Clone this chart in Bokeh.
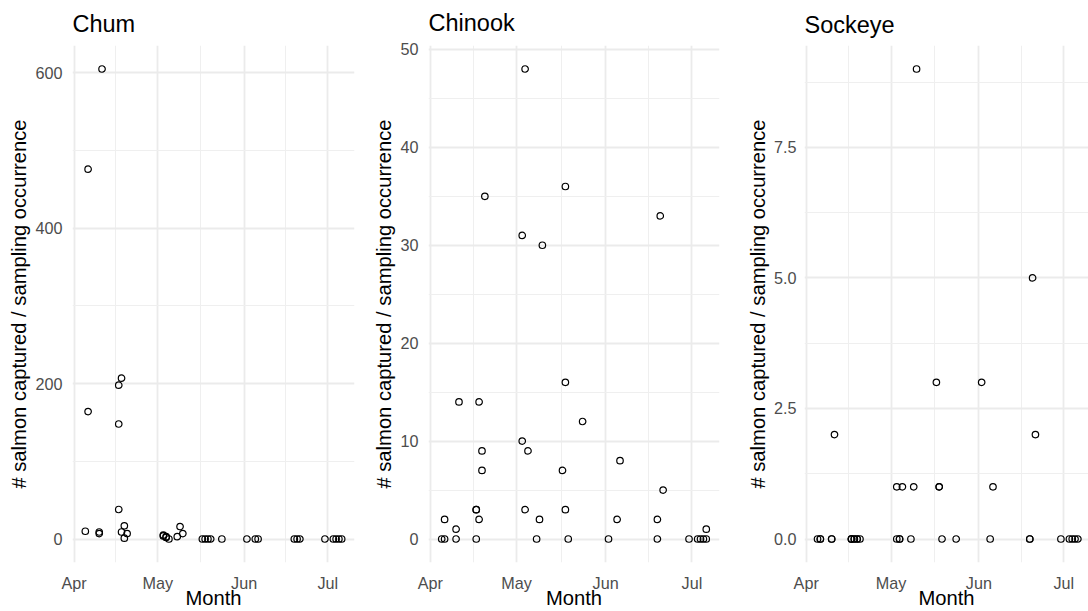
import pandas as pd
from bokeh.plotting import figure
from bokeh.layouts import row
from bokeh.models import (Range1d, FixedTicker, DatetimeTickFormatter,
                          NumeralTickFormatter, ColumnDataSource)
from bokeh.embed import file_html
from bokeh.resources import INLINE

YEAR = 2021

# ---- data (sampling date, salmon per sampling occurrence)
chum_dates = ["04-05", "04-06", "04-06", "04-10", "04-10", "04-11",
              "04-17", "04-17", "04-17", "04-18", "04-18", "04-19", "04-19", "04-20",
              "05-03", "05-03", "05-04", "05-04", "05-05",
              "05-08", "05-09", "05-10",
              "05-17", "05-18", "05-19", "05-20", "05-24",
              "06-02", "06-05", "06-06",
              "06-19", "06-20", "06-21", "06-30",
              "07-03", "07-04", "07-05", "07-06"]
chum_counts = [10, 476, 164, 9, 7, 605,
               198, 148, 38, 207, 9, 17, 1, 7,
               4, 5, 3, 2, 0,
               3, 16, 7,
               0, 0, 0, 0, 0,
               0, 0, 0,
               0, 0, 0, 0,
               0, 0, 0, 0]

chinook_dates = ["04-05", "04-06", "04-06", "04-10", "04-10", "04-11",
                 "04-17", "04-17", "04-17", "04-18", "04-18", "04-19", "04-19", "04-20",
                 "05-03", "05-03", "05-04", "05-04", "05-05",
                 "05-08", "05-09", "05-10",
                 "05-17", "05-18", "05-18", "05-18", "05-19", "05-24",
                 "06-02", "06-05", "06-06",
                 "06-19", "06-19", "06-20", "06-21", "06-30",
                 "07-03", "07-04", "07-05", "07-06", "07-06"]
chinook_counts = [0, 0, 2, 0, 1, 14,
                  0, 3, 3, 2, 14, 9, 7, 35,
                  31, 10, 48, 3, 9,
                  0, 2, 30,
                  7, 36, 16, 3, 0, 12,
                  0, 2, 8,
                  0, 2, 33, 5, 0,
                  0, 0, 0, 0, 1]

sockeye_dates = ["04-05", "04-06", "04-06", "04-10", "04-10", "04-11",
                 "04-17", "04-17", "04-17", "04-18", "04-18", "04-19", "04-19", "04-20",
                 "05-03", "05-03", "05-04", "05-04", "05-05",
                 "05-08", "05-09", "05-10",
                 "05-17", "05-18", "05-18", "05-19", "05-24",
                 "06-02", "06-05", "06-06",
                 "06-19", "06-19", "06-20", "06-21", "06-30",
                 "07-03", "07-04", "07-05", "07-06"]
sockeye_counts = [0, 0, 0, 0, 0, 2,
                  0, 0, 0, 0, 0, 0, 0, 0,
                  0, 1, 0, 0, 1,
                  0, 1, 9,
                  3, 1, 1, 0, 0,
                  3, 0, 1,
                  0, 0, 5, 2, 0,
                  0, 0, 0, 0]

month_ticks = ["04-01", "05-01", "06-01", "07-01"]
month_minor = ["04-16", "05-16 12:00", "06-16"]

chum_y_ticks = [0, 200, 400, 600]
chum_y_minor = [100, 300, 500]
chinook_y_ticks = [0, 10, 20, 30, 40, 50]
chinook_y_minor = [5, 15, 25, 35, 45]
sockeye_y_ticks = [0, 2.5, 5.0, 7.5]
sockeye_y_minor = [1.25, 3.75, 6.25, 8.75]

FONT = "Liberation Sans"
TITLE_SIZE = "23.5px"
AXIS_TITLE_SIZE = "20.2px"
TICK_SIZE = "16.2px"


def ms(md):
    return pd.Timestamp(f"{YEAR}-{md}").value / 1e6


def make_panel(title, dates, counts, yticks, yminor, yfmt, width, height,
               bl, br, bt, bb, title_standoff, xend=None, tick_standoff=10):
    x = pd.to_datetime([f"{YEAR}-{d}" for d in dates])
    src = ColumnDataSource(dict(x=x, y=counts))
    lo, hi = x.min().value / 1e6, x.max().value / 1e6
    pad = 0.05 * (hi - lo)
    ylo, yhi = min(counts), max(counts)
    ypad = 0.05 * (yhi - ylo)
    xr = Range1d(lo - pad, hi + pad if xend is None else ms(xend))
    yr = Range1d(ylo - ypad, yhi + ypad)
    p = figure(width=width, height=height, x_axis_type="datetime",
               x_range=xr, y_range=yr, output_backend="svg",
               toolbar_location=None, min_border_left=bl, min_border_right=br,
               min_border_top=bt, min_border_bottom=bb)
    p.outline_line_color = None
    p.background_fill_color = "white"
    p.border_fill_color = "white"

    p.title.text = title
    p.title.text_font = FONT
    p.title.text_font_size = TITLE_SIZE
    p.title.text_font_style = "normal"
    p.title.text_color = "black"
    p.title.align = "left"
    p.title.vertical_align = "top"
    p.title.standoff = title_standoff

    xt = FixedTicker(ticks=[ms(t) for t in month_ticks],
                     minor_ticks=[ms(t) for t in month_minor])
    yt = FixedTicker(ticks=yticks, minor_ticks=yminor)
    p.xaxis.ticker = xt
    p.yaxis.ticker = yt
    p.xgrid.ticker = xt
    p.ygrid.ticker = yt
    fmt = "%b"
    p.xaxis.formatter = DatetimeTickFormatter(
        microseconds=fmt, milliseconds=fmt, seconds=fmt, minsec=fmt,
        minutes=fmt, hourmin=fmt, hours=fmt, days=fmt, months=fmt, years=fmt)
    p.yaxis.formatter = NumeralTickFormatter(format=yfmt)

    for g in (p.xgrid, p.ygrid):
        g.grid_line_color = "#ebebeb"
        g.grid_line_width = 1.8
        g.minor_grid_line_color = "#efefef"
        g.minor_grid_line_width = 1.0

    for ax in (p.xaxis, p.yaxis):
        ax.axis_line_color = None
        ax.major_tick_line_color = None
        ax.minor_tick_line_color = None
        ax.major_tick_out = 0
        ax.major_tick_in = 0
        ax.minor_tick_out = 0
        ax.major_label_text_font = FONT
        ax.major_label_text_font_size = TICK_SIZE
        ax.major_label_text_color = "#4d4d4d"
        ax.axis_label_text_font = FONT
        ax.axis_label_text_font_size = AXIS_TITLE_SIZE
        ax.axis_label_text_font_style = "normal"
        ax.axis_label_text_color = "black"
    p.xaxis.axis_label = "Month"
    p.yaxis.axis_label = "# salmon captured / sampling occurrence"
    p.xaxis.major_label_standoff = 11
    p.xaxis.axis_label_standoff = -8
    p.yaxis.major_label_standoff = tick_standoff
    p.yaxis.axis_label_standoff = 2

    p.scatter("x", "y", source=src, marker="circle", size=6.5,
              fill_color=None, line_color="black", line_width=1.2)
    return p


p1 = make_panel("Chum", chum_dates, chum_counts, chum_y_ticks, chum_y_minor, "0",
                365, 611, 72, 11, 43, 48, 14)
p2 = make_panel("Chinook", chinook_dates, chinook_counts, chinook_y_ticks,
                chinook_y_minor, "0", 365, 611, 63, 11, 45, 47, 16)
p3 = make_panel("Sockeye", sockeye_dates, sockeye_counts, sockeye_y_ticks,
                sockeye_y_minor, "0.0", 358, 611, 74, 0, 41, 48, 12,
                xend="07-09 18:00", tick_standoff=8)

layout = row(p1, p2, p3)
open("out.html", "w").write(file_html(layout, INLINE))
